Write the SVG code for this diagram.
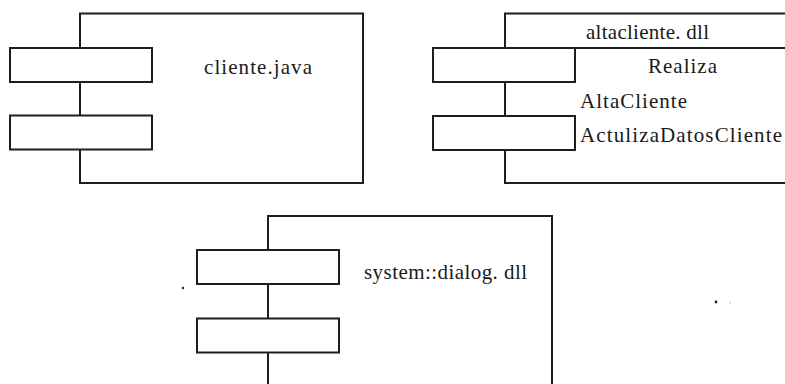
<svg xmlns="http://www.w3.org/2000/svg" width="785" height="384" viewBox="0 0 785 384">
  <style>
    .body { fill: #fff; stroke: #1e1e1e; stroke-width: 2; }
    .tab { fill: #fff; stroke: #1e1e1e; stroke-width: 2; }
    .sep { stroke: #1e1e1e; stroke-width: 2; }
    .dot { fill: #222; }
  </style>
  <rect width="785" height="384" fill="#fff"/>

  <!-- first component: two interface tabs on the left edge -->
  <g id="cliente-java">
    <rect class="body" x="80" y="13.5" width="283" height="169.5"/>
    <rect class="tab" x="10" y="48" width="142" height="34"/>
    <rect class="tab" x="10" y="115.5" width="142" height="34"/>
    <text x="204" y="74" style="font-family:'Times New Roman','Liberation Serif',serif;font-size:21px" fill="#1a1a1a" textLength="108" lengthAdjust="spacing">cliente.java</text>
  </g>

  <!-- second component: name compartment plus realized operations -->
  <g id="altacliente-dll">
    <rect class="body" x="505" y="13.5" width="300" height="169.5"/>
    <line class="sep" x1="505" y1="48" x2="790" y2="48"/>
    <rect class="tab" x="433" y="48" width="142" height="34"/>
    <rect class="tab" x="433" y="116" width="142" height="34"/>
    <text x="586" y="39" style="font-family:'Times New Roman','Liberation Serif',serif;font-size:21px" fill="#1a1a1a" textLength="123" lengthAdjust="spacing">altacliente. dll</text>
    <text x="648" y="73" style="font-family:'Times New Roman','Liberation Serif',serif;font-size:21px" fill="#1a1a1a" textLength="69" lengthAdjust="spacing">Realiza</text>
    <text x="580" y="108" style="font-family:'Times New Roman','Liberation Serif',serif;font-size:21px" fill="#1a1a1a" textLength="107" lengthAdjust="spacing">AltaCliente</text>
    <text x="580" y="142" style="font-family:'Times New Roman','Liberation Serif',serif;font-size:21px" fill="#1a1a1a" textLength="202" lengthAdjust="spacing">ActulizaDatosCliente</text>
  </g>

  <!-- third component, cut off at the bottom edge -->
  <g id="system-dialog-dll">
    <rect class="body" x="268" y="216" width="284" height="200"/>
    <rect class="tab" x="197" y="250" width="142" height="34"/>
    <rect class="tab" x="197" y="318.5" width="142" height="34"/>
    <text x="364" y="279" style="font-family:'Times New Roman','Liberation Serif',serif;font-size:21px" fill="#1a1a1a" textLength="163" lengthAdjust="spacing">system::dialog. dll</text>
  </g>

  <!-- isolated specks -->
  <circle class="dot" cx="183" cy="288" r="1.2"/>
  <circle class="dot" cx="716" cy="302" r="1.4"/>
  <circle class="dot" cx="730" cy="303" r="0.7" fill-opacity="0.4"/>
</svg>
